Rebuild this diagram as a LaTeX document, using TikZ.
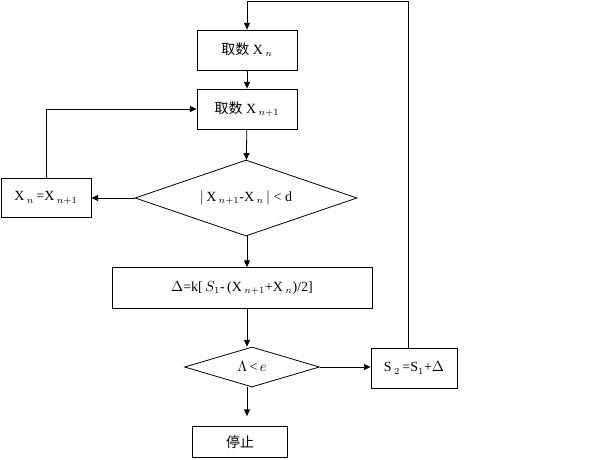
\documentclass[tikz,border=0pt]{standalone}
\usepackage{fontspec}
\setmainfont{Liberation Serif}
\newfontfamily\cjk{Noto Sans CJK SC}
\usetikzlibrary{arrows.meta,shapes.geometric}

\begin{document}
\begin{tikzpicture}[x=0.75pt,y=-0.75pt,>={Triangle[length=5pt,width=4.5pt]},line width=0.6pt,
  font=\fontsize{10.5}{12}\selectfont,
  proc/.style={draw,rectangle,minimum width=100*0.75pt,minimum height=40*0.75pt,inner sep=1pt},
  cond/.style={draw,diamond,aspect=2.9,inner sep=0pt}]
\useasboundingbox (0,0) rectangle (593,460);
\node[proc] (take) at (247,50) {{\cjk 取数} X\,$_{n}$};
\node[proc] (takenext) at (247,109) {{\cjk 取数} X\,$_{n+1}$};
\node[cond,minimum width=222*0.75pt,minimum height=76*0.75pt] (diff) at (246,198) {$|$\,X\,$_{n+1}$-X\,$_{n}$\,$|$ < d};
\node[proc,minimum width=90*0.75pt,minimum height=39*0.75pt] (swap) at (46,198) {X\,$_{n}$\,=X\,$_{n+1}$};
\node[proc,minimum width=260*0.75pt,minimum height=41*0.75pt] (delta) at (242,288) {$\Delta$=k[\,$S_1$-\,(X\,$_{n+1}$+X\,$_{n}$)/2]};
\node[cond,minimum width=135*0.75pt,minimum height=40*0.75pt,aspect=3.4] (small) at (252,367) {$\Lambda$\,<\,$e$};
\node[proc,minimum width=95*0.75pt,minimum height=31*0.75pt] (stop) at (240,442) {\cjk 停止};
\node[proc,minimum width=86*0.75pt,minimum height=40*0.75pt] (update) at (414,368) {S\,$_{2}$\,=S$_1$+$\Delta$};
\coordinate (loop) at (408,1);
\draw[->] (take) -- (takenext);
\draw[->] (takenext) -- (diff);
\draw[->] (diff.west) -- (swap.east);
\draw[->] (swap.north) |- (takenext.west);
\draw[->] (diff.south -| take) -- (delta.north -| take);
\draw[->] (delta.south -| take) -- (small.north -| take);
\draw[->,shorten >=10*0.75pt] (small.south -| take) -- (stop.north -| take);
\draw[->] (small.east) -- (small.east -| update.west);
\draw[->] (update.north -| loop) -- (loop) -| (take.north);
\end{tikzpicture}
\end{document}
